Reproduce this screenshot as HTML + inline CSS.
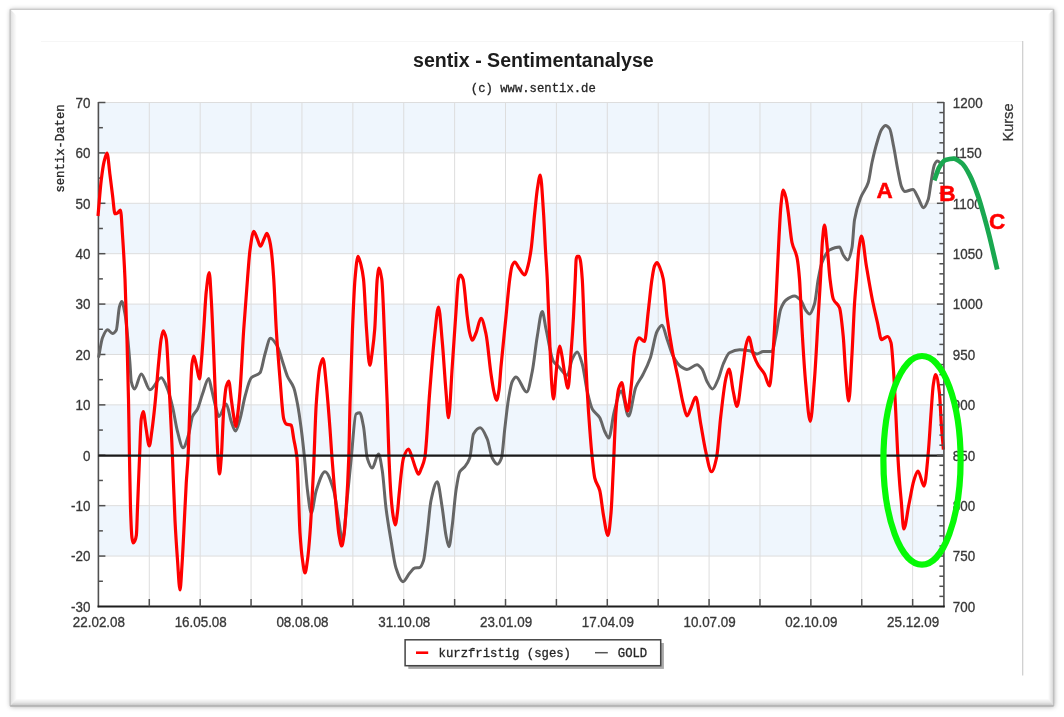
<!DOCTYPE html>
<html lang="de">
<head>
<meta charset="utf-8">
<title>sentix - Sentimentanalyse</title>
<style>
html,body{margin:0;padding:0;background:#fff;}
body{width:1064px;height:717px;position:relative;overflow:hidden;font-family:"Liberation Sans",Arial,sans-serif;}
#frame{position:absolute;left:10px;top:9px;width:1042px;height:695px;background:#fff;
 border:1.5px solid #c2c2c2;box-sizing:content-box;
 box-shadow:0 0 5px rgba(0,0,0,0.28), 1px 1px 3px rgba(0,0,0,0.15),
 inset -2px -3px 5px rgba(0,0,0,0.30), inset 3px 1px 4px rgba(0,0,0,0.10);}
</style>
</head>
<body>
<svg width="1064" height="717" viewBox="0 0 1064 717" style="position:absolute;left:0;top:0">
<defs><filter id="sh" x="-5%" y="-5%" width="110%" height="110%"><feGaussianBlur stdDeviation="2.6"/></filter><linearGradient id="gl" x1="0" x2="1" y1="0" y2="0"><stop offset="0" stop-color="#000" stop-opacity="0.13"/><stop offset="1" stop-color="#000" stop-opacity="0"/></linearGradient><linearGradient id="gr" x1="1" x2="0" y1="0" y2="0"><stop offset="0" stop-color="#000" stop-opacity="0.16"/><stop offset="1" stop-color="#000" stop-opacity="0"/></linearGradient><linearGradient id="gb" x1="0" x2="0" y1="1" y2="0"><stop offset="0" stop-color="#000" stop-opacity="0.24"/><stop offset="0.5" stop-color="#000" stop-opacity="0.09"/><stop offset="1" stop-color="#000" stop-opacity="0"/></linearGradient></defs>
<rect x="10.7" y="9.8" width="1043.4" height="696.7" fill="#000" fill-opacity="0.36" filter="url(#sh)"/>
<rect x="10.2" y="9.3" width="1043.4" height="696.7" fill="#fff"/>
<polygon points="10.2,9.3 16.7,15.8 16.7,698.5 10.2,706.0" fill="url(#gl)"/>
<polygon points="1053.6,9.3 1048.1,14.8 1048.1,698.5 1053.6,706.0" fill="url(#gr)"/>
<polygon points="10.2,706.0 16.7,698.5 1048.1,698.5 1053.6,706.0" fill="url(#gb)"/>
<line x1="10.2" y1="9.3" x2="1053.6" y2="9.3" stroke="#cbcbcb" stroke-width="1.2"/>
<line x1="10.2" y1="9.3" x2="10.2" y2="706.0" stroke="#c4c4c4" stroke-width="1.3"/>
<line x1="1053.6" y1="9.3" x2="1053.6" y2="706.0" stroke="#c0c0c0" stroke-width="1.3"/>
<line x1="10.2" y1="706.0" x2="1053.6" y2="706.0" stroke="#b0b0b0" stroke-width="1.6"/>
<rect x="41" y="41" width="982" height="634.5" fill="#fff"/>
<line x1="41" y1="41.5" x2="1023" y2="41.5" stroke="#f6f6f6" stroke-width="1"/>
<line x1="1022.7" y1="41" x2="1022.7" y2="675.5" stroke="#cdcdcd" stroke-width="1.2"/>
<rect x="98.4" y="102.50" width="845.5" height="50.40" fill="#eff6fd"/>
<rect x="98.4" y="203.29" width="845.5" height="50.40" fill="#eff6fd"/>
<rect x="98.4" y="304.08" width="845.5" height="50.39" fill="#eff6fd"/>
<rect x="98.4" y="404.87" width="845.5" height="50.39" fill="#eff6fd"/>
<rect x="98.4" y="505.66" width="845.5" height="50.40" fill="#eff6fd"/>
<line x1="149.29" y1="102.5" x2="149.29" y2="606.5" stroke="#dddddd" stroke-width="1"/>
<line x1="200.18" y1="102.5" x2="200.18" y2="606.5" stroke="#dddddd" stroke-width="1"/>
<line x1="251.07" y1="102.5" x2="251.07" y2="606.5" stroke="#dddddd" stroke-width="1"/>
<line x1="301.96" y1="102.5" x2="301.96" y2="606.5" stroke="#dddddd" stroke-width="1"/>
<line x1="352.85" y1="102.5" x2="352.85" y2="606.5" stroke="#dddddd" stroke-width="1"/>
<line x1="403.74" y1="102.5" x2="403.74" y2="606.5" stroke="#dddddd" stroke-width="1"/>
<line x1="454.63" y1="102.5" x2="454.63" y2="606.5" stroke="#dddddd" stroke-width="1"/>
<line x1="505.52" y1="102.5" x2="505.52" y2="606.5" stroke="#dddddd" stroke-width="1"/>
<line x1="556.41" y1="102.5" x2="556.41" y2="606.5" stroke="#dddddd" stroke-width="1"/>
<line x1="607.30" y1="102.5" x2="607.30" y2="606.5" stroke="#dddddd" stroke-width="1"/>
<line x1="658.19" y1="102.5" x2="658.19" y2="606.5" stroke="#dddddd" stroke-width="1"/>
<line x1="709.08" y1="102.5" x2="709.08" y2="606.5" stroke="#dddddd" stroke-width="1"/>
<line x1="759.97" y1="102.5" x2="759.97" y2="606.5" stroke="#dddddd" stroke-width="1"/>
<line x1="810.86" y1="102.5" x2="810.86" y2="606.5" stroke="#dddddd" stroke-width="1"/>
<line x1="861.75" y1="102.5" x2="861.75" y2="606.5" stroke="#dddddd" stroke-width="1"/>
<line x1="912.64" y1="102.5" x2="912.64" y2="606.5" stroke="#dddddd" stroke-width="1"/>
<line x1="98.4" y1="556.06" x2="943.9" y2="556.06" stroke="#dddddd" stroke-width="1"/>
<line x1="98.4" y1="505.66" x2="943.9" y2="505.66" stroke="#dddddd" stroke-width="1"/>
<line x1="98.4" y1="455.26" x2="943.9" y2="455.26" stroke="#dddddd" stroke-width="1"/>
<line x1="98.4" y1="404.87" x2="943.9" y2="404.87" stroke="#dddddd" stroke-width="1"/>
<line x1="98.4" y1="354.48" x2="943.9" y2="354.48" stroke="#dddddd" stroke-width="1"/>
<line x1="98.4" y1="304.08" x2="943.9" y2="304.08" stroke="#dddddd" stroke-width="1"/>
<line x1="98.4" y1="253.69" x2="943.9" y2="253.69" stroke="#dddddd" stroke-width="1"/>
<line x1="98.4" y1="203.29" x2="943.9" y2="203.29" stroke="#dddddd" stroke-width="1"/>
<line x1="98.4" y1="152.90" x2="943.9" y2="152.90" stroke="#dddddd" stroke-width="1"/>
<line x1="98.4" y1="102.50" x2="943.9" y2="102.50" stroke="#dddddd" stroke-width="1"/>
<line x1="98.4" y1="101.9" x2="98.4" y2="607.2" stroke="#505050" stroke-width="1.6"/>
<line x1="98.4" y1="102.50" x2="105.4" y2="102.50" stroke="#505050" stroke-width="1.5"/>
<line x1="98.4" y1="127.70" x2="102.9" y2="127.70" stroke="#505050" stroke-width="1.5"/>
<line x1="98.4" y1="152.90" x2="105.4" y2="152.90" stroke="#505050" stroke-width="1.5"/>
<line x1="98.4" y1="178.09" x2="102.9" y2="178.09" stroke="#505050" stroke-width="1.5"/>
<line x1="98.4" y1="203.29" x2="105.4" y2="203.29" stroke="#505050" stroke-width="1.5"/>
<line x1="98.4" y1="228.49" x2="102.9" y2="228.49" stroke="#505050" stroke-width="1.5"/>
<line x1="98.4" y1="253.69" x2="105.4" y2="253.69" stroke="#505050" stroke-width="1.5"/>
<line x1="98.4" y1="278.88" x2="102.9" y2="278.88" stroke="#505050" stroke-width="1.5"/>
<line x1="98.4" y1="304.08" x2="105.4" y2="304.08" stroke="#505050" stroke-width="1.5"/>
<line x1="98.4" y1="329.28" x2="102.9" y2="329.28" stroke="#505050" stroke-width="1.5"/>
<line x1="98.4" y1="354.48" x2="105.4" y2="354.48" stroke="#505050" stroke-width="1.5"/>
<line x1="98.4" y1="379.67" x2="102.9" y2="379.67" stroke="#505050" stroke-width="1.5"/>
<line x1="98.4" y1="404.87" x2="105.4" y2="404.87" stroke="#505050" stroke-width="1.5"/>
<line x1="98.4" y1="430.07" x2="102.9" y2="430.07" stroke="#505050" stroke-width="1.5"/>
<line x1="98.4" y1="455.26" x2="105.4" y2="455.26" stroke="#505050" stroke-width="1.5"/>
<line x1="98.4" y1="480.46" x2="102.9" y2="480.46" stroke="#505050" stroke-width="1.5"/>
<line x1="98.4" y1="505.66" x2="105.4" y2="505.66" stroke="#505050" stroke-width="1.5"/>
<line x1="98.4" y1="530.86" x2="102.9" y2="530.86" stroke="#505050" stroke-width="1.5"/>
<line x1="98.4" y1="556.06" x2="105.4" y2="556.06" stroke="#505050" stroke-width="1.5"/>
<line x1="98.4" y1="581.25" x2="102.9" y2="581.25" stroke="#505050" stroke-width="1.5"/>
<path d="M98.75 356.50C100.00 350.25 101.25 340.86 102.50 337.75C104.17 333.61 105.83 329.75 107.50 329.75C109.17 329.75 110.83 333.50 112.50 333.50C113.75 333.50 115.00 332.22 116.25 330.25C117.33 328.54 118.42 310.08 119.50 306.50C120.25 304.02 121.00 301.50 121.75 301.50C122.83 301.50 123.92 308.16 125.00 314.00C126.67 322.98 128.33 343.89 130.00 364.00C130.42 369.03 130.83 379.65 131.25 381.50C132.33 386.30 133.42 389.00 134.50 389.00C136.75 389.00 139.00 374.00 141.25 374.00C144.17 374.00 147.08 389.75 150.00 389.75C153.75 389.75 157.50 377.75 161.25 377.75C163.33 377.75 165.42 383.99 167.50 389.00C169.17 393.01 170.83 399.64 172.50 406.50C174.17 413.36 175.83 425.28 177.50 431.50C179.33 438.34 181.17 447.75 183.00 447.75C184.92 447.75 186.83 440.20 188.75 434.00C190.00 429.96 191.25 419.41 192.50 416.50C194.17 412.62 195.83 412.33 197.50 409.00C199.17 405.67 200.83 398.54 202.50 394.00C204.58 388.32 206.67 378.50 208.75 378.50C209.67 378.50 210.58 385.34 211.50 389.00C213.08 395.31 214.67 403.55 216.25 409.00C217.08 411.87 217.92 416.50 218.75 416.50C221.25 416.50 223.75 404.00 226.25 404.00C227.92 404.00 229.58 416.98 231.25 421.50C232.67 425.34 234.08 431.00 235.50 431.00C237.00 431.00 238.50 424.00 240.00 419.00C241.67 413.44 243.33 402.54 245.00 396.50C247.08 388.94 249.17 379.83 251.25 377.75C254.17 374.84 257.08 375.85 260.00 372.75C261.67 370.98 263.33 359.42 265.00 354.00C266.83 348.03 268.67 338.25 270.50 338.25C272.83 338.25 275.17 342.45 277.50 346.50C279.17 349.39 280.83 356.50 282.50 361.50C284.17 366.50 285.83 372.71 287.50 376.50C289.58 381.23 291.67 382.26 293.75 387.75C295.00 391.04 296.25 397.43 297.50 404.00C298.75 410.57 300.00 419.43 301.25 429.00C302.33 437.30 303.42 447.38 304.50 458.00C305.50 467.80 306.50 482.69 307.50 490.50C308.75 500.26 310.00 513.00 311.25 513.00C312.92 513.00 314.58 495.50 316.25 490.50C319.17 481.75 322.08 471.75 325.00 471.75C327.92 471.75 330.83 480.88 333.75 490.50C335.42 496.00 337.08 511.11 338.75 520.50C340.00 527.54 341.25 540.50 342.50 540.50C344.17 540.50 345.83 511.33 347.50 495.50C348.75 483.63 350.00 470.04 351.25 458.00C352.83 442.75 354.42 414.98 356.00 414.00C357.25 413.22 358.50 412.75 359.75 412.75C361.00 412.75 362.25 420.12 363.50 426.50C364.75 432.88 366.00 453.84 367.25 458.00C368.92 463.55 370.58 468.00 372.25 468.00C374.33 468.00 376.42 454.00 378.50 454.00C379.75 454.00 381.00 462.86 382.25 470.50C383.50 478.14 384.75 498.05 386.00 508.00C387.67 521.27 389.33 530.57 391.00 540.50C392.67 550.43 394.33 563.05 396.00 568.00C398.33 574.94 400.67 581.75 403.00 581.75C405.25 581.75 407.50 575.52 409.75 573.00C411.42 571.13 413.08 568.30 414.75 568.00C416.42 567.70 418.08 567.83 419.75 567.50C421.00 567.25 422.25 564.22 423.50 560.50C424.75 556.78 426.00 542.93 427.25 533.00C428.50 523.07 429.75 506.31 431.00 500.50C433.08 490.82 435.17 481.75 437.25 481.75C438.92 481.75 440.58 497.72 442.25 508.00C443.50 515.71 444.75 529.37 446.00 535.50C447.00 540.40 448.00 546.75 449.00 546.75C450.08 546.75 451.17 533.80 452.25 525.50C453.50 515.93 454.75 498.64 456.00 490.50C457.25 482.36 458.50 473.90 459.75 471.75C461.42 468.88 463.08 468.87 464.75 466.75C466.42 464.63 468.08 462.71 469.75 458.00C471.00 454.47 472.25 436.18 473.50 434.00C475.75 430.08 478.00 427.75 480.25 427.75C482.58 427.75 484.92 433.61 487.25 439.00C488.92 442.85 490.58 454.86 492.25 458.00C493.92 461.14 495.58 464.25 497.25 464.25C498.67 464.25 500.08 461.69 501.50 458.00C502.58 455.17 503.67 438.15 504.75 429.00C506.00 418.44 507.25 406.37 508.50 399.00C509.75 391.63 511.00 383.89 512.25 381.50C513.50 379.11 514.75 377.00 516.00 377.00C519.58 377.00 523.17 392.00 526.75 392.00C528.58 392.00 530.42 380.46 532.25 371.50C533.92 363.35 535.58 346.22 537.25 336.50C538.92 326.78 540.58 311.50 542.25 311.50C543.50 311.50 544.75 323.36 546.00 329.00C548.50 340.28 551.00 357.60 553.50 361.50C555.17 364.10 556.83 364.83 558.50 366.50C561.42 369.42 564.33 375.25 567.25 375.25C568.92 375.25 570.58 362.26 572.25 359.00C573.92 355.74 575.58 352.00 577.25 352.00C578.92 352.00 580.58 358.43 582.25 364.00C583.92 369.57 585.58 384.37 587.25 391.50C588.92 398.63 590.58 405.98 592.25 409.00C594.75 413.53 597.25 413.54 599.75 417.75C601.42 420.56 603.08 428.15 604.75 431.50C606.10 434.21 607.45 438.00 608.80 438.00C610.53 438.00 612.27 419.08 614.00 412.60C616.43 403.51 618.87 391.00 621.30 391.00C623.70 391.00 626.10 416.00 628.50 416.00C630.93 416.00 633.37 393.13 635.80 387.20C638.20 381.35 640.60 379.25 643.00 374.50C645.43 369.68 647.87 365.03 650.30 358.00C652.53 351.55 654.77 335.64 657.00 331.50C658.67 328.41 660.33 325.25 662.00 325.25C663.67 325.25 665.33 334.38 667.00 339.00C669.08 344.78 671.17 352.70 673.25 356.50C675.75 361.07 678.25 364.76 680.75 366.50C682.83 367.95 684.92 369.50 687.00 369.50C690.33 369.50 693.67 364.75 697.00 364.75C698.67 364.75 700.33 366.89 702.00 369.00C703.67 371.11 705.33 378.55 707.00 381.50C708.83 384.75 710.67 389.00 712.50 389.00C714.42 389.00 716.33 383.25 718.25 379.00C719.92 375.31 721.58 367.79 723.25 364.00C725.33 359.27 727.42 353.88 729.50 352.75C732.83 350.94 736.17 349.75 739.50 349.75C742.83 349.75 746.17 350.19 749.50 350.75C752.00 351.17 754.50 354.00 757.00 354.00C759.08 354.00 761.17 351.50 763.25 351.50C766.17 351.50 769.08 351.50 772.00 351.50C773.25 351.50 774.50 342.25 775.75 336.50C777.42 328.84 779.08 313.43 780.75 309.00C782.42 304.57 784.08 301.59 785.75 300.25C788.67 297.91 791.58 296.00 794.50 296.00C796.58 296.00 798.67 298.10 800.75 300.25C802.42 301.97 804.08 308.06 805.75 310.25C807.00 311.89 808.25 314.00 809.50 314.00C811.17 314.00 812.83 309.26 814.50 304.00C815.75 300.05 817.00 285.63 818.25 279.00C819.50 272.37 820.75 265.68 822.00 262.50C824.50 256.14 827.00 251.31 829.50 250.00C832.83 248.25 836.17 247.00 839.50 247.00C840.75 247.00 842.00 253.16 843.25 255.00C844.75 257.21 846.25 260.00 847.75 260.00C849.17 260.00 850.58 254.42 852.00 247.50C852.83 243.43 853.67 224.87 854.50 220.00C856.58 207.82 858.67 202.90 860.75 197.50C863.25 191.02 865.75 190.16 868.25 182.50C869.50 178.67 870.75 168.25 872.00 162.50C873.67 154.83 875.33 148.05 877.00 142.50C878.50 137.50 880.00 131.81 881.50 129.60C882.87 127.59 884.23 125.50 885.60 125.50C886.93 125.50 888.27 126.85 889.60 128.60C890.97 130.40 892.33 140.03 893.70 146.80C895.03 153.41 896.37 162.59 897.70 169.20C899.07 175.97 900.43 184.62 901.80 187.40C902.80 189.43 903.80 191.50 904.80 191.50C907.53 191.50 910.27 189.50 913.00 189.50C914.67 189.50 916.33 194.73 918.00 197.60C919.83 200.75 921.67 207.70 923.50 207.70C925.07 207.70 926.63 203.99 928.20 199.60C929.20 196.80 930.20 187.04 931.20 181.40C932.23 175.58 933.27 167.33 934.30 165.10C935.30 162.94 936.30 161.00 937.30 161.00C938.67 161.00 940.03 163.00 941.40 164.00" fill="none" stroke="#666666" stroke-width="3.0" stroke-linejoin="round" stroke-linecap="round"/>
<path d="M98.00 216.00C99.08 204.00 100.17 188.85 101.25 180.00C102.17 172.51 103.08 165.79 104.00 162.00C105.00 157.86 106.00 153.00 107.00 153.00C108.00 153.00 109.00 167.34 110.00 175.00C110.83 181.39 111.67 188.55 112.50 195.00C113.33 201.45 114.17 213.75 115.00 213.75C115.83 213.75 116.67 213.38 117.50 213.00C118.50 212.55 119.50 210.00 120.50 210.00C121.17 210.00 121.83 225.32 122.50 235.00C123.33 247.11 124.17 260.21 125.00 279.00C125.67 294.03 126.33 316.78 127.00 340.00C127.50 357.42 128.00 376.03 128.50 400.00C128.83 415.98 129.17 440.10 129.50 458.00C129.83 475.90 130.17 498.20 130.50 508.00C131.00 522.71 131.50 534.63 132.00 538.00C132.40 540.69 132.80 543.00 133.20 543.00C133.73 543.00 134.27 542.00 134.80 541.00C135.33 540.00 135.87 538.63 136.40 535.00C136.77 532.50 137.13 517.07 137.50 508.00C138.17 491.50 138.83 473.69 139.50 458.00C140.08 444.27 140.67 422.81 141.25 419.00C141.92 414.65 142.58 411.50 143.25 411.50C144.17 411.50 145.08 422.71 146.00 428.00C147.08 434.25 148.17 446.00 149.25 446.00C150.17 446.00 151.08 436.36 152.00 430.00C153.00 423.06 154.00 413.77 155.00 404.00C156.25 391.78 157.50 374.37 158.75 361.50C159.50 353.78 160.25 344.31 161.00 340.00C161.75 335.69 162.50 330.75 163.25 330.75C164.25 330.75 165.25 334.20 166.25 339.00C167.08 343.00 167.92 364.19 168.75 379.00C169.58 393.81 170.42 410.95 171.25 429.00C171.67 438.02 172.08 448.01 172.50 458.00C173.33 477.97 174.17 504.36 175.00 520.50C175.83 536.64 176.67 548.63 177.50 560.00C178.33 571.37 179.17 590.00 180.00 590.00C180.67 590.00 181.33 574.94 182.00 565.00C182.58 556.30 183.17 544.12 183.75 533.00C184.58 517.12 185.42 496.75 186.25 483.00C186.83 473.37 187.42 468.83 188.00 458.00C188.67 445.63 189.33 419.32 190.00 404.00C190.67 388.68 191.33 368.89 192.00 364.00C192.58 359.72 193.17 356.00 193.75 356.00C194.67 356.00 195.58 362.38 196.50 366.00C197.50 369.95 198.50 379.00 199.50 379.00C200.17 379.00 200.83 367.47 201.50 360.00C202.25 351.60 203.00 339.76 203.75 329.00C204.58 317.04 205.42 299.01 206.25 291.50C207.25 282.48 208.25 272.50 209.25 272.50C209.92 272.50 210.58 288.07 211.25 299.00C212.08 312.66 212.92 334.14 213.75 354.00C214.58 373.86 215.42 399.09 216.25 419.00C216.83 432.94 217.42 449.66 218.00 458.00C218.50 465.15 219.00 474.00 219.50 474.00C220.08 474.00 220.67 465.12 221.25 458.00C222.08 447.83 222.92 419.28 223.75 409.00C224.58 398.72 225.42 389.45 226.25 386.50C227.08 383.55 227.92 381.00 228.75 381.00C229.58 381.00 230.42 393.04 231.25 399.00C232.00 404.37 232.75 410.54 233.50 415.00C234.25 419.46 235.00 426.50 235.75 426.50C236.50 426.50 237.25 417.96 238.00 412.00C238.67 406.70 239.33 399.76 240.00 391.50C241.25 376.01 242.50 347.52 243.75 329.00C245.00 310.48 246.25 294.44 247.50 279.00C248.33 268.71 249.17 255.98 250.00 250.00C251.25 241.03 252.50 231.25 253.75 231.25C254.83 231.25 255.92 235.61 257.00 238.00C258.17 240.57 259.33 246.25 260.50 246.25C261.67 246.25 262.83 241.32 264.00 239.00C265.00 237.01 266.00 233.25 267.00 233.25C267.83 233.25 268.67 236.88 269.50 240.00C270.08 242.19 270.67 245.62 271.25 250.00C272.08 256.26 272.92 266.76 273.75 279.00C274.58 291.24 275.42 315.49 276.25 329.00C277.50 349.27 278.75 364.19 280.00 379.00C281.25 393.81 282.50 414.97 283.75 419.00C284.58 421.68 285.42 423.59 286.25 424.00C287.92 424.81 289.58 424.36 291.25 425.25C292.08 425.69 292.92 434.28 293.75 439.00C294.83 445.13 295.92 447.65 297.00 458.00C298.00 467.56 299.00 518.10 300.00 533.00C300.83 545.42 301.67 554.15 302.50 560.00C303.33 565.85 304.17 573.00 305.00 573.00C305.83 573.00 306.67 565.85 307.50 560.00C308.33 554.15 309.17 544.10 310.00 533.00C311.17 517.47 312.33 494.14 313.50 470.00C314.42 451.03 315.33 417.22 316.25 404.00C317.50 385.97 318.75 371.65 320.00 366.50C321.00 362.38 322.00 358.50 323.00 358.50C324.08 358.50 325.17 373.77 326.25 384.00C327.50 395.80 328.75 412.43 330.00 429.00C330.67 437.84 331.33 449.23 332.00 458.00C333.42 476.64 334.83 492.93 336.25 508.00C337.17 517.75 338.08 529.79 339.00 535.00C339.92 540.21 340.83 546.00 341.75 546.00C342.50 546.00 343.25 540.21 344.00 535.00C344.75 529.79 345.50 519.20 346.25 508.00C347.08 495.55 347.92 481.75 348.75 458.00C349.17 446.12 349.58 419.06 350.00 404.00C350.83 373.89 351.67 349.00 352.50 329.00C353.33 309.00 354.17 288.29 355.00 279.00C356.00 267.85 357.00 256.25 358.00 256.25C359.00 256.25 360.00 261.13 361.00 265.00C361.83 268.23 362.67 272.12 363.50 279.00C364.50 287.26 365.50 315.60 366.50 329.00C367.58 343.52 368.67 365.25 369.75 365.25C370.67 365.25 371.58 356.43 372.50 350.00C373.25 344.74 374.00 338.48 374.75 329.00C375.58 318.46 376.42 286.73 377.25 279.00C377.83 273.59 378.42 268.00 379.00 268.00C379.92 268.00 380.83 272.91 381.75 279.00C382.75 285.65 383.75 318.71 384.75 341.50C385.58 360.49 386.42 380.84 387.25 404.00C387.83 420.21 388.42 444.32 389.00 458.00C389.67 473.64 390.33 486.95 391.00 495.50C391.67 504.05 392.33 510.90 393.00 515.00C393.75 519.61 394.50 525.00 395.25 525.00C396.00 525.00 396.75 517.80 397.50 512.00C398.00 508.13 398.50 500.35 399.00 495.50C400.50 480.94 402.00 462.49 403.50 458.00C405.17 453.01 406.83 449.00 408.50 449.00C409.75 449.00 411.00 454.62 412.25 458.00C413.33 460.93 414.42 465.32 415.50 468.00C416.50 470.48 417.50 474.25 418.50 474.25C419.50 474.25 420.50 470.48 421.50 468.00C422.58 465.32 423.67 463.19 424.75 458.00C426.42 450.02 428.08 412.06 429.75 391.50C431.42 370.94 433.08 348.60 434.75 334.00C436.00 323.05 437.25 307.00 438.50 307.00C439.75 307.00 441.00 327.89 442.25 341.50C443.50 355.11 444.75 376.93 446.00 391.50C446.83 401.21 447.67 417.75 448.50 417.75C449.75 417.75 451.00 384.19 452.25 366.50C453.50 348.81 454.75 328.66 456.00 311.50C456.83 300.06 457.67 281.81 458.50 279.00C459.17 276.75 459.83 275.00 460.50 275.00C461.33 275.00 462.17 276.87 463.00 279.00C464.42 282.62 465.83 305.68 467.25 316.50C468.00 322.23 468.75 328.82 469.50 332.00C470.42 335.88 471.33 340.25 472.25 340.25C473.50 340.25 474.75 335.89 476.00 333.00C477.67 329.15 479.33 318.25 481.00 318.25C482.67 318.25 484.33 326.47 486.00 334.00C487.67 341.53 489.33 362.71 491.00 374.00C492.00 380.78 493.00 387.78 494.00 392.00C494.83 395.52 495.67 400.25 496.50 400.25C497.33 400.25 498.17 395.16 499.00 390.00C499.67 385.87 500.33 373.79 501.00 366.50C502.67 348.28 504.33 333.17 506.00 316.50C507.25 304.00 508.50 287.96 509.75 279.00C510.50 273.63 511.25 267.78 512.00 266.00C512.92 263.83 513.83 262.00 514.75 262.00C516.17 262.00 517.58 266.14 519.00 268.00C520.92 270.52 522.83 275.00 524.75 275.00C525.83 275.00 526.92 269.97 528.00 266.00C529.00 262.34 530.00 256.88 531.00 250.00C532.25 241.40 533.50 224.24 534.75 212.50C535.67 203.89 536.58 193.66 537.50 188.00C538.42 182.34 539.33 175.00 540.25 175.00C541.33 175.00 542.42 196.73 543.50 212.50C544.17 222.21 544.83 238.29 545.50 250.00C546.08 260.25 546.67 267.51 547.25 279.00C548.08 295.41 548.92 322.41 549.75 341.50C550.42 356.77 551.08 375.93 551.75 384.00C552.33 391.06 552.92 399.00 553.50 399.00C554.33 399.00 555.17 382.33 556.00 374.00C556.67 367.33 557.33 358.15 558.00 354.00C558.58 350.37 559.17 346.00 559.75 346.00C560.50 346.00 561.25 352.05 562.00 356.00C562.92 360.82 563.83 369.16 564.75 374.00C565.83 379.72 566.92 388.25 568.00 388.25C569.00 388.25 570.00 367.02 571.00 354.00C571.83 343.15 572.67 331.36 573.50 316.50C574.08 306.10 574.67 291.38 575.25 279.00C575.57 272.28 575.88 260.53 576.20 259.00C576.53 257.39 576.87 256.30 577.20 256.30C577.80 256.30 578.40 256.30 579.00 256.30C579.43 256.30 579.87 258.16 580.30 260.00C580.95 262.76 581.60 270.05 582.25 279.00C583.08 290.48 583.92 322.98 584.75 341.50C585.58 360.02 586.42 377.21 587.25 391.50C588.08 405.79 588.92 418.10 589.75 429.00C590.58 439.90 591.42 450.11 592.25 458.00C593.08 465.89 593.92 474.63 594.75 478.00C596.42 484.74 598.08 484.31 599.75 490.50C601.00 495.15 602.25 508.79 603.50 515.50C605.00 523.55 606.50 535.50 608.00 535.50C609.00 535.50 610.00 524.00 611.00 513.00C611.75 504.75 612.50 485.20 613.25 470.00C614.13 452.09 615.02 423.62 615.90 412.60C616.80 401.38 617.70 392.05 618.60 389.00C619.63 385.50 620.67 382.60 621.70 382.60C622.80 382.60 623.90 394.86 625.00 400.00C625.87 404.05 626.73 411.00 627.60 411.00C628.83 411.00 630.07 396.17 631.30 385.40C632.20 377.54 633.10 360.80 634.00 354.50C634.83 348.66 635.67 343.85 636.50 341.80C637.33 339.75 638.17 337.75 639.00 337.75C640.83 337.75 642.67 341.50 644.50 341.50C645.75 341.50 647.00 321.90 648.25 311.50C649.50 301.10 650.75 286.99 652.00 279.00C652.83 273.67 653.67 267.84 654.50 266.00C655.33 264.16 656.17 262.50 657.00 262.50C658.00 262.50 659.00 265.63 660.00 268.00C661.08 270.57 662.17 273.58 663.25 279.00C664.50 285.25 665.75 306.55 667.00 316.50C668.67 329.77 670.33 339.74 672.00 349.00C674.08 360.57 676.17 368.79 678.25 379.00C679.92 387.17 681.58 397.56 683.25 404.00C684.50 408.83 685.75 416.00 687.00 416.00C688.33 416.00 689.67 410.86 691.00 408.00C692.58 404.61 694.17 397.00 695.75 397.00C697.42 397.00 699.08 414.92 700.75 424.00C702.42 433.08 704.08 444.31 705.75 451.50C707.67 459.77 709.58 471.75 711.50 471.75C713.17 471.75 714.83 465.26 716.50 458.00C717.92 451.83 719.33 428.56 720.75 416.50C722.42 402.31 724.08 386.06 725.75 379.00C726.83 374.41 727.92 369.00 729.00 369.00C730.42 369.00 731.83 385.06 733.25 391.50C734.50 397.18 735.75 406.50 737.00 406.50C738.67 406.50 740.33 385.52 742.00 374.00C743.25 365.36 744.50 351.95 745.75 346.50C746.75 342.14 747.75 337.00 748.75 337.00C750.25 337.00 751.75 349.75 753.25 354.00C754.92 358.72 756.58 362.35 758.25 365.25C760.33 368.88 762.42 370.28 764.50 374.00C766.17 376.98 767.83 386.00 769.50 386.00C770.33 386.00 771.17 375.05 772.00 366.50C772.83 357.95 773.67 343.29 774.50 329.00C775.33 314.71 776.17 295.98 777.00 279.00C777.67 265.41 778.33 249.65 779.00 237.50C779.67 225.35 780.33 211.36 781.00 205.00C781.75 197.85 782.50 190.00 783.25 190.00C784.17 190.00 785.08 194.28 786.00 198.00C786.75 201.04 787.50 207.19 788.25 212.50C789.50 221.34 790.75 236.92 792.00 242.50C793.67 249.93 795.33 249.67 797.00 257.50C797.83 261.42 798.67 268.98 799.50 279.00C800.33 289.02 801.17 314.75 802.00 329.00C803.25 350.37 804.50 370.60 805.75 384.00C807.25 400.08 808.75 421.50 810.25 421.50C811.67 421.50 813.08 396.80 814.50 379.00C815.75 363.29 817.00 337.33 818.25 316.50C819.00 304.00 819.75 292.50 820.50 279.00C821.17 267.00 821.83 247.22 822.50 240.00C823.17 232.78 823.83 225.00 824.50 225.00C825.33 225.00 826.17 237.22 827.00 245.00C828.00 254.33 829.00 270.99 830.00 279.00C831.08 287.68 832.17 296.35 833.25 299.00C835.33 304.09 837.42 302.52 839.50 307.75C840.75 310.89 842.00 323.54 843.25 336.50C844.08 345.14 844.92 364.55 845.75 374.00C846.75 385.34 847.75 401.00 848.75 401.00C849.83 401.00 850.92 372.31 852.00 354.00C852.83 339.91 853.67 316.71 854.50 304.00C855.17 293.83 855.83 287.30 856.50 279.00C857.33 268.62 858.17 253.77 859.00 248.00C859.83 242.23 860.67 236.00 861.50 236.00C863.10 236.00 864.70 256.06 866.30 265.50C868.33 277.50 870.37 289.90 872.40 300.00C874.07 308.28 875.73 315.08 877.40 322.30C878.77 328.22 880.13 339.60 881.50 339.60C882.50 339.60 883.50 338.51 884.50 338.00C885.53 337.48 886.57 336.50 887.60 336.50C888.73 336.50 889.87 338.96 891.00 342.60C891.83 345.27 892.67 358.86 893.50 370.50C894.23 380.74 894.97 396.48 895.70 411.00C896.37 424.20 897.03 441.98 897.70 453.70C898.40 466.01 899.10 476.19 899.80 485.00C900.27 490.87 900.73 495.36 901.20 500.50C902.07 510.05 902.93 529.00 903.80 529.00C905.50 529.00 907.20 512.67 908.90 504.50C910.60 496.33 912.30 485.13 914.00 480.00C915.33 475.97 916.67 471.00 918.00 471.00C920.03 471.00 922.07 486.20 924.10 486.20C925.47 486.20 926.83 467.82 928.20 453.70C929.20 443.37 930.20 424.27 931.20 411.00C931.90 401.71 932.60 389.19 933.30 384.70C934.10 379.57 934.90 374.50 935.70 374.50C936.93 374.50 938.17 382.92 939.40 392.80C940.07 398.14 940.73 416.03 941.40 425.30C942.07 434.57 942.73 441.50 943.40 449.60" fill="none" stroke="#ff0000" stroke-width="3.2" stroke-linejoin="round" stroke-linecap="butt"/>
<line x1="98.4" y1="455.60" x2="943.9" y2="455.60" stroke="#1a1a1a" stroke-width="2.2"/>
<line x1="943.9" y1="101.9" x2="943.9" y2="607.2" stroke="#505050" stroke-width="1.6"/>
<line x1="97.6" y1="606.5" x2="944.7" y2="606.5" stroke="#1e1e1e" stroke-width="2.0"/>
<line x1="936.9" y1="102.50" x2="943.9" y2="102.50" stroke="#505050" stroke-width="1.5"/>
<line x1="939.4" y1="112.58" x2="943.9" y2="112.58" stroke="#505050" stroke-width="1.5"/>
<line x1="939.4" y1="122.66" x2="943.9" y2="122.66" stroke="#505050" stroke-width="1.5"/>
<line x1="939.4" y1="132.74" x2="943.9" y2="132.74" stroke="#505050" stroke-width="1.5"/>
<line x1="939.4" y1="142.82" x2="943.9" y2="142.82" stroke="#505050" stroke-width="1.5"/>
<line x1="936.9" y1="152.90" x2="943.9" y2="152.90" stroke="#505050" stroke-width="1.5"/>
<line x1="939.4" y1="162.97" x2="943.9" y2="162.97" stroke="#505050" stroke-width="1.5"/>
<line x1="939.4" y1="173.05" x2="943.9" y2="173.05" stroke="#505050" stroke-width="1.5"/>
<line x1="939.4" y1="183.13" x2="943.9" y2="183.13" stroke="#505050" stroke-width="1.5"/>
<line x1="939.4" y1="193.21" x2="943.9" y2="193.21" stroke="#505050" stroke-width="1.5"/>
<line x1="936.9" y1="203.29" x2="943.9" y2="203.29" stroke="#505050" stroke-width="1.5"/>
<line x1="939.4" y1="213.37" x2="943.9" y2="213.37" stroke="#505050" stroke-width="1.5"/>
<line x1="939.4" y1="223.45" x2="943.9" y2="223.45" stroke="#505050" stroke-width="1.5"/>
<line x1="939.4" y1="233.53" x2="943.9" y2="233.53" stroke="#505050" stroke-width="1.5"/>
<line x1="939.4" y1="243.61" x2="943.9" y2="243.61" stroke="#505050" stroke-width="1.5"/>
<line x1="936.9" y1="253.69" x2="943.9" y2="253.69" stroke="#505050" stroke-width="1.5"/>
<line x1="939.4" y1="263.76" x2="943.9" y2="263.76" stroke="#505050" stroke-width="1.5"/>
<line x1="939.4" y1="273.84" x2="943.9" y2="273.84" stroke="#505050" stroke-width="1.5"/>
<line x1="939.4" y1="283.92" x2="943.9" y2="283.92" stroke="#505050" stroke-width="1.5"/>
<line x1="939.4" y1="294.00" x2="943.9" y2="294.00" stroke="#505050" stroke-width="1.5"/>
<line x1="936.9" y1="304.08" x2="943.9" y2="304.08" stroke="#505050" stroke-width="1.5"/>
<line x1="939.4" y1="314.16" x2="943.9" y2="314.16" stroke="#505050" stroke-width="1.5"/>
<line x1="939.4" y1="324.24" x2="943.9" y2="324.24" stroke="#505050" stroke-width="1.5"/>
<line x1="939.4" y1="334.32" x2="943.9" y2="334.32" stroke="#505050" stroke-width="1.5"/>
<line x1="939.4" y1="344.40" x2="943.9" y2="344.40" stroke="#505050" stroke-width="1.5"/>
<line x1="936.9" y1="354.48" x2="943.9" y2="354.48" stroke="#505050" stroke-width="1.5"/>
<line x1="939.4" y1="364.55" x2="943.9" y2="364.55" stroke="#505050" stroke-width="1.5"/>
<line x1="939.4" y1="374.63" x2="943.9" y2="374.63" stroke="#505050" stroke-width="1.5"/>
<line x1="939.4" y1="384.71" x2="943.9" y2="384.71" stroke="#505050" stroke-width="1.5"/>
<line x1="939.4" y1="394.79" x2="943.9" y2="394.79" stroke="#505050" stroke-width="1.5"/>
<line x1="936.9" y1="404.87" x2="943.9" y2="404.87" stroke="#505050" stroke-width="1.5"/>
<line x1="939.4" y1="414.95" x2="943.9" y2="414.95" stroke="#505050" stroke-width="1.5"/>
<line x1="939.4" y1="425.03" x2="943.9" y2="425.03" stroke="#505050" stroke-width="1.5"/>
<line x1="939.4" y1="435.11" x2="943.9" y2="435.11" stroke="#505050" stroke-width="1.5"/>
<line x1="939.4" y1="445.19" x2="943.9" y2="445.19" stroke="#505050" stroke-width="1.5"/>
<line x1="936.9" y1="455.26" x2="943.9" y2="455.26" stroke="#505050" stroke-width="1.5"/>
<line x1="939.4" y1="465.34" x2="943.9" y2="465.34" stroke="#505050" stroke-width="1.5"/>
<line x1="939.4" y1="475.42" x2="943.9" y2="475.42" stroke="#505050" stroke-width="1.5"/>
<line x1="939.4" y1="485.50" x2="943.9" y2="485.50" stroke="#505050" stroke-width="1.5"/>
<line x1="939.4" y1="495.58" x2="943.9" y2="495.58" stroke="#505050" stroke-width="1.5"/>
<line x1="936.9" y1="505.66" x2="943.9" y2="505.66" stroke="#505050" stroke-width="1.5"/>
<line x1="939.4" y1="515.74" x2="943.9" y2="515.74" stroke="#505050" stroke-width="1.5"/>
<line x1="939.4" y1="525.82" x2="943.9" y2="525.82" stroke="#505050" stroke-width="1.5"/>
<line x1="939.4" y1="535.90" x2="943.9" y2="535.90" stroke="#505050" stroke-width="1.5"/>
<line x1="939.4" y1="545.98" x2="943.9" y2="545.98" stroke="#505050" stroke-width="1.5"/>
<line x1="936.9" y1="556.06" x2="943.9" y2="556.06" stroke="#505050" stroke-width="1.5"/>
<line x1="939.4" y1="566.13" x2="943.9" y2="566.13" stroke="#505050" stroke-width="1.5"/>
<line x1="939.4" y1="576.21" x2="943.9" y2="576.21" stroke="#505050" stroke-width="1.5"/>
<line x1="939.4" y1="586.29" x2="943.9" y2="586.29" stroke="#505050" stroke-width="1.5"/>
<line x1="939.4" y1="596.37" x2="943.9" y2="596.37" stroke="#505050" stroke-width="1.5"/>
<line x1="149.29" y1="599.0" x2="149.29" y2="606.5" stroke="#505050" stroke-width="1.5"/>
<line x1="200.18" y1="599.0" x2="200.18" y2="606.5" stroke="#505050" stroke-width="1.5"/>
<line x1="251.07" y1="599.0" x2="251.07" y2="606.5" stroke="#505050" stroke-width="1.5"/>
<line x1="301.96" y1="599.0" x2="301.96" y2="606.5" stroke="#505050" stroke-width="1.5"/>
<line x1="352.85" y1="599.0" x2="352.85" y2="606.5" stroke="#505050" stroke-width="1.5"/>
<line x1="403.74" y1="599.0" x2="403.74" y2="606.5" stroke="#505050" stroke-width="1.5"/>
<line x1="454.63" y1="599.0" x2="454.63" y2="606.5" stroke="#505050" stroke-width="1.5"/>
<line x1="505.52" y1="599.0" x2="505.52" y2="606.5" stroke="#505050" stroke-width="1.5"/>
<line x1="556.41" y1="599.0" x2="556.41" y2="606.5" stroke="#505050" stroke-width="1.5"/>
<line x1="607.30" y1="599.0" x2="607.30" y2="606.5" stroke="#505050" stroke-width="1.5"/>
<line x1="658.19" y1="599.0" x2="658.19" y2="606.5" stroke="#505050" stroke-width="1.5"/>
<line x1="709.08" y1="599.0" x2="709.08" y2="606.5" stroke="#505050" stroke-width="1.5"/>
<line x1="759.97" y1="599.0" x2="759.97" y2="606.5" stroke="#505050" stroke-width="1.5"/>
<line x1="810.86" y1="599.0" x2="810.86" y2="606.5" stroke="#505050" stroke-width="1.5"/>
<line x1="861.75" y1="599.0" x2="861.75" y2="606.5" stroke="#505050" stroke-width="1.5"/>
<line x1="912.64" y1="599.0" x2="912.64" y2="606.5" stroke="#505050" stroke-width="1.5"/>
<g font-family="'Liberation Sans', Arial, sans-serif" font-size="13.4" fill="#383838" stroke="#383838" stroke-width="0.3">
<text transform="translate(90.40,107.73) scale(1,1.070)" text-anchor="end">70</text>
<text transform="translate(90.40,158.13) scale(1,1.070)" text-anchor="end">60</text>
<text transform="translate(90.40,208.52) scale(1,1.070)" text-anchor="end">50</text>
<text transform="translate(90.40,258.92) scale(1,1.070)" text-anchor="end">40</text>
<text transform="translate(90.40,309.31) scale(1,1.070)" text-anchor="end">30</text>
<text transform="translate(90.40,359.71) scale(1,1.070)" text-anchor="end">20</text>
<text transform="translate(90.40,410.10) scale(1,1.070)" text-anchor="end">10</text>
<text transform="translate(90.40,460.50) scale(1,1.070)" text-anchor="end">0</text>
<text transform="translate(90.40,510.89) scale(1,1.070)" text-anchor="end">-10</text>
<text transform="translate(90.40,561.29) scale(1,1.070)" text-anchor="end">-20</text>
<text transform="translate(90.40,611.68) scale(1,1.070)" text-anchor="end">-30</text>
<text transform="translate(952.80,107.83) scale(1,1.070)" text-anchor="start">1200</text>
<text transform="translate(952.80,158.23) scale(1,1.070)" text-anchor="start">1150</text>
<text transform="translate(952.80,208.62) scale(1,1.070)" text-anchor="start">1100</text>
<text transform="translate(952.80,259.02) scale(1,1.070)" text-anchor="start">1050</text>
<text transform="translate(952.80,309.41) scale(1,1.070)" text-anchor="start">1000</text>
<text transform="translate(952.80,359.81) scale(1,1.070)" text-anchor="start">950</text>
<text transform="translate(952.80,410.20) scale(1,1.070)" text-anchor="start">900</text>
<text transform="translate(952.80,460.60) scale(1,1.070)" text-anchor="start">850</text>
<text transform="translate(952.80,510.99) scale(1,1.070)" text-anchor="start">800</text>
<text transform="translate(952.80,561.39) scale(1,1.070)" text-anchor="start">750</text>
<text transform="translate(952.80,611.78) scale(1,1.070)" text-anchor="start">700</text>
<text transform="translate(98.90,626.80) scale(1,1.070)" text-anchor="middle">22.02.08</text>
<text transform="translate(200.68,626.80) scale(1,1.070)" text-anchor="middle">16.05.08</text>
<text transform="translate(302.46,626.80) scale(1,1.070)" text-anchor="middle">08.08.08</text>
<text transform="translate(404.24,626.80) scale(1,1.070)" text-anchor="middle">31.10.08</text>
<text transform="translate(506.02,626.80) scale(1,1.070)" text-anchor="middle">23.01.09</text>
<text transform="translate(607.80,626.80) scale(1,1.070)" text-anchor="middle">17.04.09</text>
<text transform="translate(709.58,626.80) scale(1,1.070)" text-anchor="middle">10.07.09</text>
<text transform="translate(811.36,626.80) scale(1,1.070)" text-anchor="middle">02.10.09</text>
<text transform="translate(913.14,626.80) scale(1,1.070)" text-anchor="middle">25.12.09</text>
<text transform="translate(1013.2,141.6) rotate(-90)" font-size="14.6">Kurse</text>
</g>
<g font-family="'Liberation Mono', 'DejaVu Sans Mono', monospace" font-size="12.275" fill="#262626" stroke="#262626" stroke-width="0.3">
<text transform="translate(470.8,91.6) scale(1,1.06)">(c) www.sentix.de</text>
<text transform="translate(63.9,192.6) rotate(-90) scale(1,1.06)">sentix-Daten</text>
</g>
<text x="533.4" y="66.8" text-anchor="middle" font-family="'Liberation Sans', Arial, sans-serif" font-weight="bold" font-size="19.6" fill="#1c1c1c">sentix - Sentimentanalyse</text>
<rect x="408.3" y="643" width="255.6" height="25.9" fill="#a9a9a9"/>
<rect x="405.1" y="639.8" width="255.6" height="25.9" fill="#fff" stroke="#444" stroke-width="1.5"/>
<line x1="416" y1="652.7" x2="428.2" y2="652.7" stroke="#ff0000" stroke-width="2.6"/>
<line x1="595" y1="652.7" x2="607.8" y2="652.7" stroke="#555" stroke-width="1.5"/>
<g font-family="'Liberation Mono', 'DejaVu Sans Mono', monospace" font-size="12.275" fill="#262626" stroke="#262626" stroke-width="0.3">
<text transform="translate(438.6,657.2) scale(1,1.06)">kurzfristig (sges)</text>
<text transform="translate(617.8,657.2) scale(1,1.06)">GOLD</text>
</g>
<path d="M934.30 180.30C936.00 175.87 937.70 169.77 939.40 167.00C941.40 163.74 943.40 160.62 945.40 160.00C948.13 159.15 950.87 158.60 953.60 158.60C956.30 158.60 959.00 160.84 961.70 163.00C964.40 165.16 967.10 170.19 969.80 175.30C972.50 180.41 975.20 187.83 977.90 195.60C979.93 201.45 981.97 208.72 984.00 215.90C985.70 221.90 987.40 228.26 989.10 235.00C991.80 245.71 994.50 258.00 997.20 269.50" fill="none" stroke="#1aa850" stroke-width="4.8" stroke-linecap="butt"/>
<ellipse cx="922" cy="460.3" rx="38.6" ry="104.3" fill="none" stroke="#06f906" stroke-width="6.2"/>
<g font-family="'Liberation Sans', Arial, sans-serif" font-weight="bold" font-size="22.5" fill="#ff0000" stroke="#ff0000" stroke-width="0.5">
<text x="876.4" y="198.2">A</text>
<text x="939.3" y="201.2">B</text>
<text x="989" y="228.8">C</text>
</g>
</svg>
</body>
</html>
